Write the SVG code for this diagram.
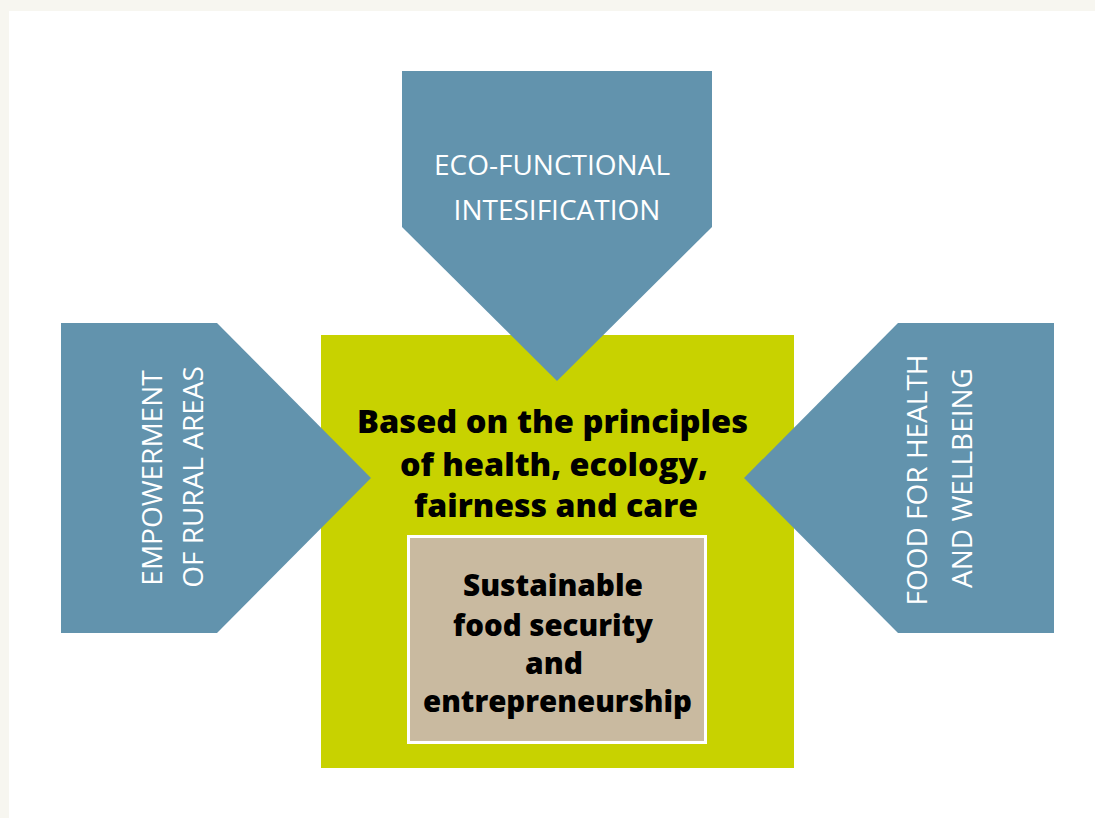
<svg xmlns="http://www.w3.org/2000/svg" width="1095" height="818" viewBox="0 0 1095 818">
<style>
.arrow{fill:#6293ad}
.lt{font-family:"Open Sans","Liberation Sans",sans-serif;font-weight:400;font-size:28px;fill:#ffffff;text-anchor:middle}
.bd{font-family:"Open Sans","Liberation Sans",sans-serif;font-weight:800;font-size:32px;fill:#000000;text-anchor:middle}
.bi{font-family:"Open Sans","Liberation Sans",sans-serif;font-weight:800;font-size:30px;fill:#000000;text-anchor:middle}
</style>
<rect x="0" y="0" width="1095" height="818" fill="#f7f6f0"/>
<rect x="9" y="11" width="1086" height="807" fill="#ffffff"/>
<g id="center">
<rect x="321" y="335" width="473" height="433" fill="#c8d200"/>
</g>
<g id="top-arrow">
<polygon class="arrow" points="402,71 712,71 712,227 557,381 402,227"/>
<text class="lt" x="552" y="175">ECO-FUNCTIONAL</text>
<text class="lt" x="557" y="220">INTESIFICATION</text>
</g>
<g id="left-arrow">
<polygon class="arrow" points="61,323 217,323 371,478 217,633 61,633"/>
<text class="lt" transform="translate(162,478) rotate(-90)">EMPOWERMENT</text>
<text class="lt" transform="translate(203,477) rotate(-90)">OF RURAL AREAS</text>
</g>
<g id="right-arrow">
<polygon class="arrow" points="1054,323 898,323 744,478 898,633 1054,633"/>
<text class="lt" transform="translate(927,480) rotate(-90)">FOOD FOR HEALTH</text>
<text class="lt" transform="translate(972,478) rotate(-90)">AND WELLBEING</text>
</g>
<g id="principles">
<text class="bd" x="552.5" y="433" textLength="391" lengthAdjust="spacingAndGlyphs">Based on the principles</text>
<text class="bd" x="554" y="476" textLength="308" lengthAdjust="spacingAndGlyphs">of health, ecology,</text>
<text class="bd" x="556" y="517" textLength="284" lengthAdjust="spacingAndGlyphs">fairness and care</text>
</g>
<g id="core">
<rect x="408.5" y="536.5" width="297" height="206" fill="#c9baa0" stroke="#ffffff" stroke-width="3"/>
<text class="bi" x="553" y="596" textLength="180" lengthAdjust="spacingAndGlyphs">Sustainable</text>
<text class="bi" x="553" y="636" textLength="200" lengthAdjust="spacingAndGlyphs">food security</text>
<text class="bi" x="554" y="674" textLength="58" lengthAdjust="spacingAndGlyphs">and</text>
<text class="bi" x="557.5" y="712" textLength="269" lengthAdjust="spacingAndGlyphs">entrepreneurship</text>
</g>
<g id="connectors"/>
</svg>
